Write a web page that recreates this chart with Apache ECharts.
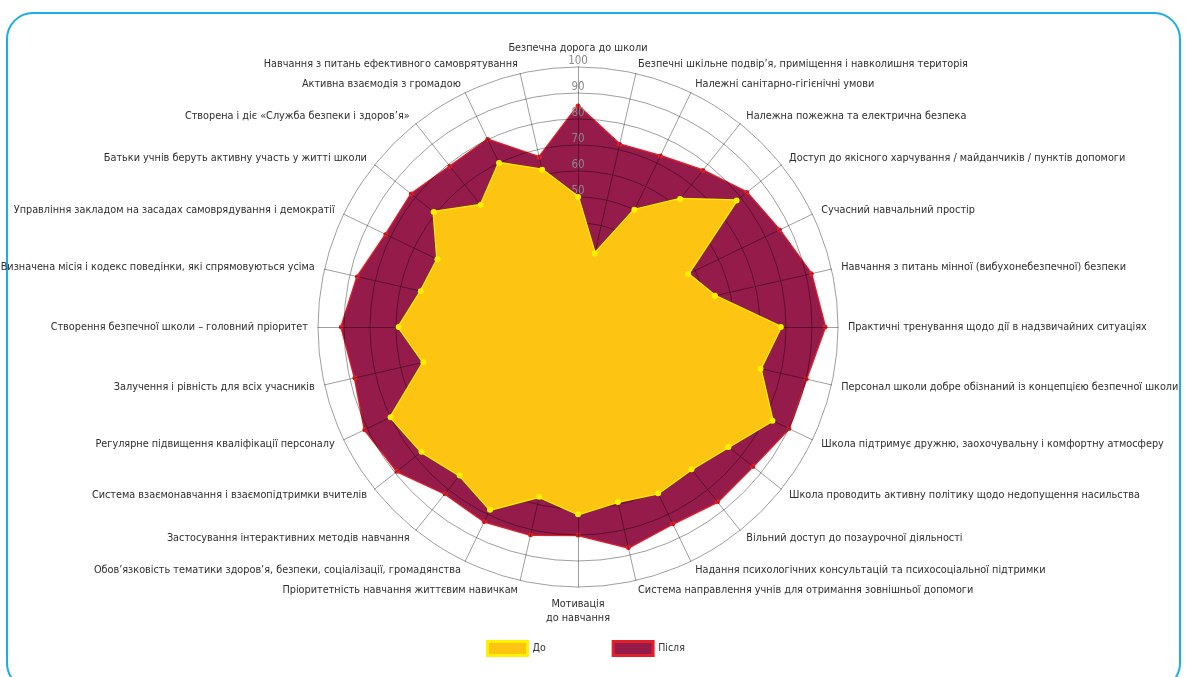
<!DOCTYPE html>
<html>
<head>
<meta charset="utf-8">
<script src="https://cdn.jsdelivr.net/npm/echarts@6.0.0/dist/echarts.min.js"></script>
<style>
html,body{margin:0;padding:0;background:#fff;}
#chart{width:1186px;height:677px;}
</style>
</head>
<body>
<div id="chart"></div>
<script>
// Indicators, clockwise from the top
const indicators = [
  'Безпечна дорога до школи',
  'Безпечні шкільне подвір’я, приміщення і навколишня територія',
  'Належні санітарно-гігієнічні умови',
  'Належна пожежна та електрична безпека',
  'Доступ до якісного харчування / майданчиків / пунктів допомоги',
  'Сучасний навчальний простір',
  'Навчання з питань мінної (вибухонебезпечної) безпеки',
  'Практичні тренування щодо дії в надзвичайних ситуаціях',
  'Персонал школи добре обізнаний із концепцією безпечної школи',
  'Школа підтримує дружню, заохочувальну і комфортну атмосферу',
  'Школа проводить активну політику щодо недопущення насильства',
  'Вільний доступ до позаурочної діяльності',
  'Надання психологічних консультацій та психосоціальної підтримки',
  'Система направлення учнів для отримання зовнішньої допомоги',
  'Мотивація\nдо навчання',
  'Пріоритетність навчання життєвим навичкам',
  'Обов’язковість тематики здоров’я, безпеки, соціалізації, громадянства',
  'Застосування інтерактивних методів навчання',
  'Система взаємонавчання і взаємопідтримки вчителів',
  'Регулярне підвищення кваліфікації персоналу',
  'Залучення і рівність для всіх учасників',
  'Створення безпечної школи – головний пріоритет',
  'Визначена місія і кодекс поведінки, які спрямовуються усіма',
  'Управління закладом на засадах самоврядування і демократії',
  'Батьки учнів беруть активну участь у житті школи',
  'Створена і діє «Служба безпеки і здоров’я»',
  'Активна взаємодія з громадою',
  'Навчання з питань ефективного самоврятування'
];
const before = [50, 29, 50, 63, 78, 47, 54, 78, 72, 83, 74, 70, 71, 69, 72, 67, 78, 73, 77, 80, 61, 69, 62, 60, 71, 60, 70, 62];
const after  = [85, 72, 73, 77, 83, 86, 92, 95, 90, 90, 86, 86, 84, 87, 80, 82, 83, 82, 89, 91, 88, 91, 87, 82, 82, 79, 80, 67];
const seriesNames = ['До', 'Після'];
const axisMax = 100;
const axisSplit = 10;

// ECharts places radar indicators counter-clockwise; reorder so they run clockwise
const order = [0];
for (let i = indicators.length - 1; i >= 1; i--) order.push(i);

const font = "'DejaVu Sans Condensed', 'Liberation Sans Narrow', sans-serif";

const indicatorOpts = order.map((i, k) => {
  const o = { name: indicators[i], min: 0, max: axisMax };
  if (k === 0) {
    o.axisLabel = {
      show: true, color: '#8a8a8a', fontSize: 11.5, fontFamily: font,
      align: 'center', verticalAlign: 'bottom', margin: 0,
      showMinLabel: false
    };
  }
  return o;
});

const chart = echarts.init(document.getElementById('chart'), null, { renderer: 'canvas' });
chart.setOption({
  backgroundColor: '#ffffff',
  animation: false,
  graphic: [{
    type: 'rect', silent: true, z: 0,
    shape: { x: 7, y: 13, width: 1173, height: 676, r: 26 },
    style: { fill: 'none', stroke: '#1AADE8', lineWidth: 2 }
  }],
  legend: {
    top: 635, left: 481,
    icon: 'rect', itemWidth: 40, itemHeight: 14, itemGap: 66,
    textStyle: { fontSize: 10.5, fontFamily: font, color: '#333' },
    data: [
      { name: seriesNames[0], itemStyle: { color: '#FDC412', borderColor: '#FFF200', borderWidth: 3 } },
      { name: seriesNames[1], itemStyle: { color: '#951B4B', borderColor: '#E3202A', borderWidth: 3 } }
    ]
  },
  radar: {
    z: 3,
    center: [578, 327],
    radius: 260,
    shape: 'circle',
    splitNumber: axisSplit,
    startAngle: 90,
    nameGap: 10,
    axisName: { color: '#2e2e2e', fontSize: 10.8, fontFamily: font, lineHeight: 14 },
    axisLine: { lineStyle: { color: 'rgba(0,0,0,0.38)', width: 1 } },
    splitLine: { lineStyle: { color: 'rgba(0,0,0,0.38)', width: 1 } },
    splitArea: { show: false },
    axisLabel: { show: false },
    axisTick: { show: false },
    indicator: indicatorOpts
  },
  series: [
    {
      name: seriesNames[1], type: 'radar', z: 2,
      symbol: 'circle', symbolSize: 5,
      lineStyle: { color: '#E3202A', width: 2.5 },
      itemStyle: { color: '#E3202A' },
      areaStyle: { color: '#951B4B', opacity: 1 },
      data: [{ name: seriesNames[1], value: order.map(i => after[i]) }]
    },
    {
      name: seriesNames[0], type: 'radar', z: 4,
      symbol: 'circle', symbolSize: 6,
      lineStyle: { color: '#FFF200', width: 2.5 },
      itemStyle: { color: '#FFF200' },
      areaStyle: { color: '#FDC412', opacity: 1 },
      data: [{ name: seriesNames[0], value: order.map(i => before[i]) }]
    }
  ]
});
</script>
</body>
</html>
